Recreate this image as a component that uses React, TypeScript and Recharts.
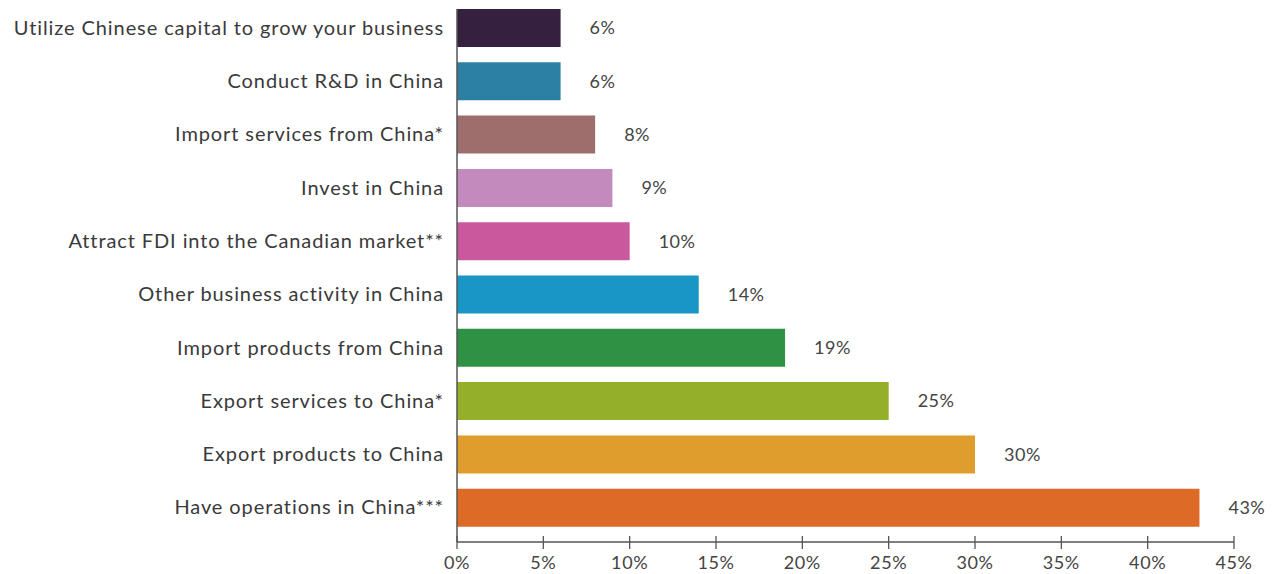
import { Bar, BarChart, Cell, LabelList, XAxis, YAxis } from "recharts";

const categories = [
  "Utilize Chinese capital to grow your business",
  "Conduct R&D in China",
  "Import services from China*",
  "Invest in China",
  "Attract FDI into the Canadian market**",
  "Other business activity in China ",
  "Import products from China",
  "Export services to China*",
  "Export products to China",
  "Have operations in China***",
];
const shares = [6, 6, 8, 9, 10, 14, 19, 25, 30, 43];
const barColours = [
  "#35213f", "#2b80a3", "#9d6e6b", "#c38abd", "#c9589c",
  "#1996c5", "#2f9143", "#94af29", "#df9d2e", "#de6a27",
];
const xTicks = [0, 5, 10, 15, 20, 25, 30, 35, 40, 45];

const data = categories.map((name, i) => ({ name, value: shares[i] }));

const FONT = "Lato, 'Open Sans', sans-serif";
const AXIS_Y = 542;

const XTick = (props: any) => {
  const { x, payload } = props;
  return (
    <g>
      <line x1={x} x2={x} y1={AXIS_Y - 6} y2={AXIS_Y + 7} stroke="#555" strokeWidth={1.3} />
      <text x={x} y={AXIS_Y + 27} textAnchor="middle" fill="#444" fontSize={18}
        fontFamily={FONT} letterSpacing={0.6}>
        {payload.value}%
      </text>
    </g>
  );
};

export default function App() {
  return (
    <div style={{ position: "absolute", left: 0, top: 0, background: "#fff" }}>
      <BarChart
        width={1275}
        height={574}
        data={data}
        layout="vertical"
        margin={{ top: 9, right: 41, bottom: 0, left: 0 }}
        barSize={38}
      >
        <XAxis
          type="number"
          domain={[0, 45]}
          ticks={xTicks}
          interval={0}
          height={32}
          tickLine={false}
          axisLine={{ stroke: "#555", strokeWidth: 1.3 }}
          tick={<XTick />}
        />
        <YAxis
          type="category"
          dataKey="name"
          width={457}
          padding={{ top: -8, bottom: 8 }}
          tickLine={false}
          tickSize={0}
          tickMargin={13}
          interval={0}
          axisLine={{ stroke: "#555", strokeWidth: 1.5 }}
          tick={{ fill: "#3a3a3a", fontSize: 20, fontFamily: FONT, letterSpacing: 0.9 }}
        />
        <Bar dataKey="value" isAnimationActive={false}>
          {data.map((d, i) => (
            <Cell key={d.name} fill={barColours[i]} />
          ))}
          <LabelList
            dataKey="value"
            position="right"
            offset={29}
            formatter={(v: any) => `${v}%`}
            style={{ fill: "#444", fontSize: 18, fontFamily: FONT, letterSpacing: 0.5 }}
          />
        </Bar>
      </BarChart>
    </div>
  );
}
